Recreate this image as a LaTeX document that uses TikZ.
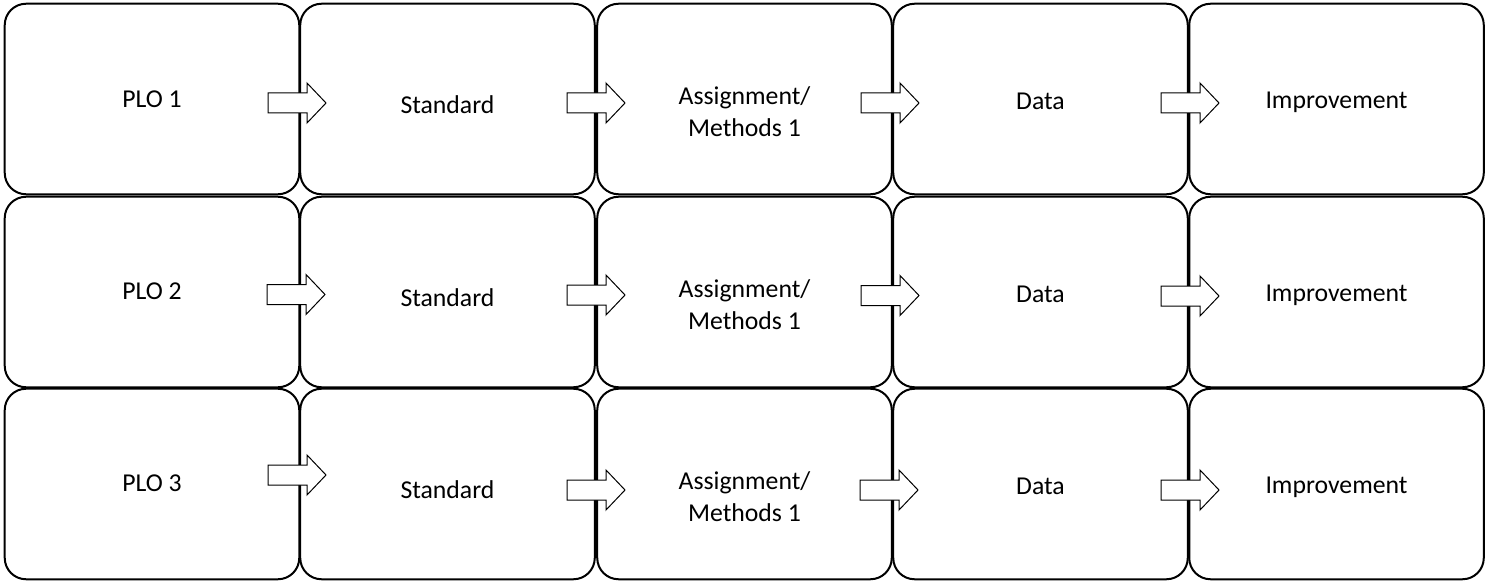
\documentclass[tikz,border=0pt]{standalone}
\usepackage{fontspec}
\setmainfont{Carlito}
\begin{document}
\begin{tikzpicture}[x=0.75pt,y=-0.75pt,
  cell/.style={draw=black, line width=1.5pt, rounded corners=16pt, fill=white,
    minimum width=220.9pt, minimum height=142.9pt, inner sep=0pt},
  lbl/.style={font=\fontsize{19.3}{24}\selectfont, align=center, inner sep=0pt, text=black},
  arrowline/.style={draw=black, line width=0.75pt, fill=white, line join=miter},
  blockarr/.pic={\path[arrowline] (0,-10) -- (39,-10) -- (39,-20) -- (58,0) -- (39,20) -- (39,10) -- (0,10) -- cycle;}
]
\useasboundingbox[fill=white] (0,0) rectangle (1494,581);

% boxes
\foreach \r/\cy in {1/99,2/292,3/484}{
  \foreach \c/\cx in {1/152,2/447.5,3/744.5,4/1040.5,5/1336.5}{
    \node[cell] (b\r\c) at (\cx,\cy) {};
  }
}

% labels
\node[lbl] (t11) at (152,99) {PLO 1};
\node[lbl] (t21) at (152,291) {PLO 2};
\node[lbl] (t31) at (152,483) {PLO 3};
\foreach \r/\cy in {1/99,2/292,3/484}{
  \node[lbl] (t\r2) at ([yshift=-4.5pt]b\r2.center) {Standard};
  \node[lbl] (t\r3) at ([yshift=-9.75pt]b\r3.center) {Assignment/\\Methods 1};
  \node[lbl] (t\r4) at ([yshift=-1.5pt]b\r4.center) {Data};
  \node[lbl] (t\r5) at ([yshift=-2.5pt]b\r5.center) {Improvement};
}

% block arrows
\pic at (268,103) {blockarr};
\pic at (567,103) {blockarr};
\pic at (861,103) {blockarr};
\pic at (1161,103) {blockarr};
\pic at (267,294.5) {blockarr};
\pic at (567,295) {blockarr};
\pic at (861,295.5) {blockarr};
\pic at (1161,296) {blockarr};
\pic at (268,475) {blockarr};
\pic at (567,490) {blockarr};
\pic at (860,490) {blockarr};
\pic at (1161,490) {blockarr};
\end{tikzpicture}
\end{document}
